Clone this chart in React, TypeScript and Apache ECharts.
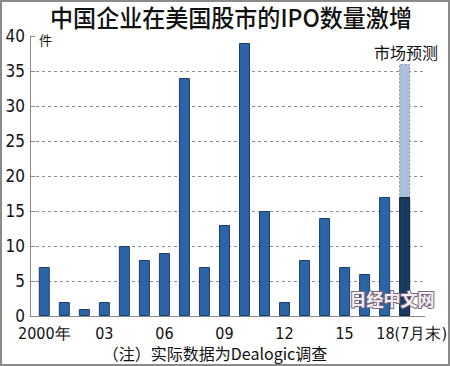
import React, { useEffect, useRef } from "react";
import * as echarts from "echarts";

const years = ["2000","2001","2002","2003","2004","2005","2006","2007","2008","2009","2010","2011","2012","2013","2014","2015","2016","2017","2018"];
const ipoCounts = [7, 2, 1, 2, 10, 8, 9, 34, 7, 13, 39, 15, 2, 8, 14, 7, 6, 17, 17];
const forecastYearIndex = 18;
const forecastTotal = 36;
const xTickPositions = [0, 3, 6, 9, 12, 15, 18];
const xTickLabels = ["2000年", "03", "06", "09", "12", "15", "18(7月末)"];

const NUM_FONT = "'Liberation Sans Narrow', 'DejaVu Sans Condensed', 'Liberation Sans', sans-serif";
const CJK_FONT = "'Noto Sans CJK SC', 'Noto Sans', sans-serif";

export default function App() {
  const ref = useRef<HTMLDivElement>(null);
  useEffect(() => {
    document.body.style.margin = "0";
    const chart = echarts.init(ref.current!, null, { renderer: "svg" });
    const actualData = ipoCounts.map((v, i) =>
      i === forecastYearIndex
        ? { value: [i, v], itemStyle: { color: "#1b3a60", borderColor: "#10243f" } }
        : { value: [i, v] }
    );
    chart.setOption({
      animation: false,
      backgroundColor: "#ffffff",
      grid: { left: 30, right: 20, top: 36, bottom: 50 },
      xAxis: {
        type: "value",
        min: -0.714,
        max: 19,
        axisLine: { show: true, onZero: false, lineStyle: { color: "#8a8a8a", width: 1 } },
        axisTick: { show: false },
        splitLine: { show: false },
        axisLabel: {
          customValues: xTickPositions,
          margin: 9,
          color: "#111",
          fontSize: 16,
          fontFamily: NUM_FONT,
          formatter: (v: number) => {
            const idx = xTickPositions.indexOf(Math.round(v));
            if (idx < 0) return "";
            if (idx === xTickLabels.length - 1) return "{s|" + xTickLabels[idx] + "}";
            return xTickLabels[idx];
          },
          rich: {
            s: { padding: [0, 0, 0, 14], fontSize: 16, fontFamily: NUM_FONT, color: "#111" },
          },
        },
      },
      yAxis: {
        type: "value",
        min: 0,
        max: 40,
        interval: 5,
        axisLine: { show: true, onZero: false, lineStyle: { color: "#8a8a8a", width: 1 } },
        axisTick: { show: true, inside: true, length: 5, lineStyle: { color: "#8a8a8a" } },
        axisLabel: { margin: 5, color: "#111", fontSize: 17, fontFamily: NUM_FONT },
        splitLine: {
          show: true,
          showMaxLine: false,
          lineStyle: { color: "#8c8c8c", type: [3, 3], width: 1 },
        },
      },
      series: [
        {
          name: "市场预测",
          type: "bar",
          barWidth: 11,
          barGap: "-100%",
          data: [[forecastYearIndex, forecastTotal]],
          itemStyle: { color: "#a9c1de", borderColor: "#8a8a8a", borderWidth: 1, borderType: [2, 2] },
        },
        {
          name: "IPO",
          type: "bar",
          barWidth: 11,
          barGap: "-100%",
          data: actualData,
          itemStyle: { color: "#2c64a8", borderColor: "#1d3f70", borderWidth: 1 },
        },
      ],
      graphic: [
        {
          type: "rect",
          shape: { x: 1, y: 1, width: 448, height: 364 },
          style: { fill: "none", stroke: "#8a8a8a", lineWidth: 2 },
          silent: true,
        },
        {
          type: "text",
          x: 231,
          y: 17,
          scaleX: 0.96,
          style: {
            text: "中国企业在美国股市的IPO数量激增",
            fontSize: 24,
            fontWeight: 500,
            fontFamily: CJK_FONT,
            fill: "#111",
            align: "center",
            verticalAlign: "middle",
          },
        },
        {
          type: "text",
          x: 39,
          y: 39,
          style: { text: "件", fontSize: 13, fontFamily: CJK_FONT, fill: "#111", align: "left", verticalAlign: "middle" },
        },
        {
          type: "text",
          x: 406,
          y: 52,
          style: { text: "市场预测", fontSize: 16, fontFamily: CJK_FONT, fill: "#111", align: "center", verticalAlign: "middle" },
        },
        {
          type: "text",
          x: 215,
          y: 353,
          style: { text: "（注）实际数据为Dealogic调查", fontSize: 16, fontFamily: CJK_FONT, fill: "#111", align: "center", verticalAlign: "middle" },
        },
        {
          type: "text",
          x: 392,
          y: 298,
          z: 100,
          style: {
            text: "日经中文网",
            fontSize: 17,
            fontWeight: "bold",
            fontFamily: CJK_FONT,
            fill: "#f4eef4",
            stroke: "#7a6a7a",
            lineWidth: 2,
            align: "center",
            verticalAlign: "middle",
          },
        },
      ],
    });
    return () => chart.dispose();
  }, []);
  return <div ref={ref} style={{ position: "absolute", left: 0, top: 0, width: 450, height: 366 }} />;
}
